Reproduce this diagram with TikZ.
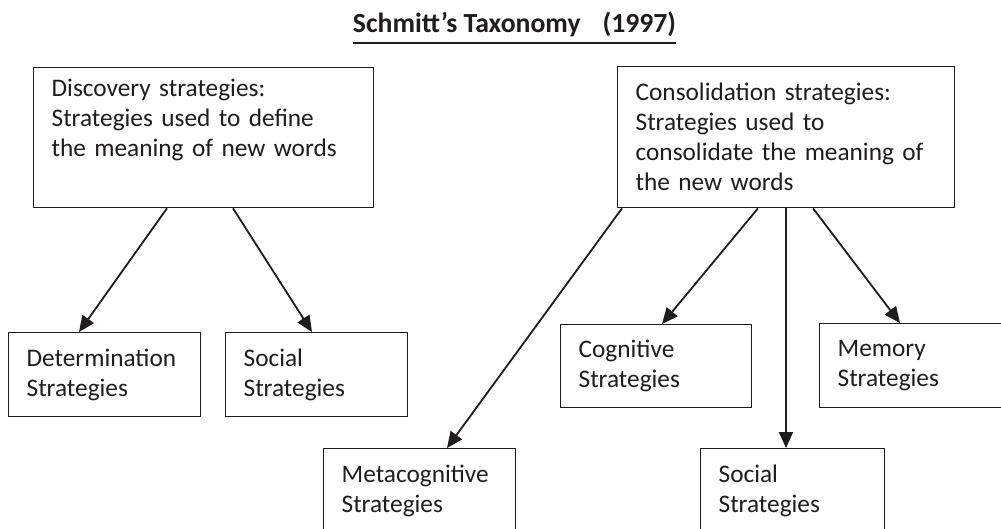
\documentclass[tikz,border=0pt]{standalone}
\usepackage{fontspec}
\setmainfont{Carlito}
\usetikzlibrary{arrows.meta}
\definecolor{ink}{rgb}{0.12,0.11,0.11}
\tikzset{
	strat/.style 2 args={draw=ink,text=ink,line width=1.3pt,anchor=north west,inner xsep=18pt,inner ysep=4pt,
		align=left,text width=#1,minimum height=#2,font=\fontsize{25.3}{30}\selectfont},
	arr/.style={draw=ink,line width=1.8pt,-{Triangle[length=16pt,width=14pt]}}
}

\begin{document}
\begin{tikzpicture}[x=1pt,y=-1pt]
			\useasboundingbox (0,0) rectangle (1001,528);							% page frame
			\node[font=\bfseries\fontsize{27.7}{32}\selectfont,text=ink,anchor=base,inner sep=0pt] (title) at (514.5,32)
				{Schmitt’s Taxonomy\hspace{22pt}(1997)};								% title
			\draw [ink,line width=2.7pt] ([yshift=-11pt]title.base west) -- ([yshift=-11pt]title.base east);
			% upper boxes
			\node[strat={304pt}{140pt}] (disc) at (33,67)
				{Discovery strategies:\\Strategies used to define\\the meaning of new words\\\strut};
			\node[strat={301pt}{141pt}] (cons) at (617,66)
				{Consolidation strategies:\\Strategies used to\\consolidate the meaning of\\the new words};
			% lower boxes
			\node[strat={156pt}{84pt}] (det) at (8,332) {Determination\\Strategies};
			\node[strat={146pt}{84pt}] (soca) at (225,332) {Social\\Strategies};
			\node[strat={156pt}{84pt}] (meta) at (323,448) {Metacognitive\\Strategies};
			\node[strat={155pt}{83pt}] (cogn) at (560,324) {Cognitive\\Strategies};
			\node[strat={148pt}{84pt}] (socb) at (700,448) {Social\\Strategies};
			\node[strat={164pt}{84pt}] (memo) at (819,323) {Memory\\Strategies};
			% connectors
			\draw [arr] ([xshift=134pt]disc.south west) -- ([xshift=71pt]det.north west);
			\draw [arr] ([xshift=200pt]disc.south west) -- ([xshift=87pt]soca.north west);
			\draw [arr] ([xshift=5pt]cons.south west) -- ([xshift=124pt]meta.north west);
			\draw [arr] ([xshift=141pt]cons.south west) -- ([xshift=102pt]cogn.north west);
			\draw [arr] ([xshift=169pt]cons.south west) -- ([xshift=86pt]socb.north west);
			\draw [arr] ([xshift=196pt]cons.south west) -- ([xshift=81pt]memo.north west);
		\end{tikzpicture}
\end{document}
